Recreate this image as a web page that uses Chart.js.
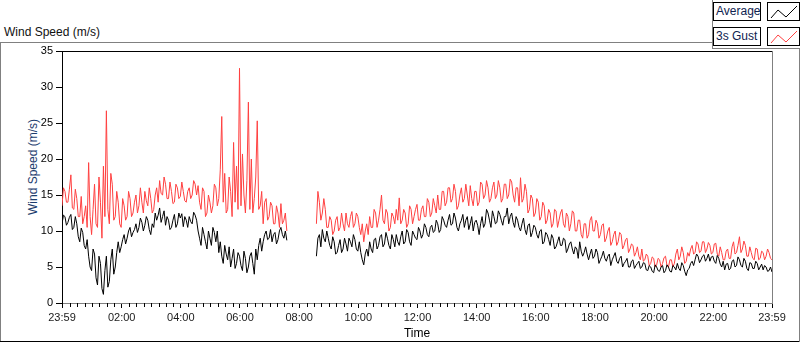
<!DOCTYPE html>
<html>
<head>
<meta charset="utf-8">
<script src="https://cdn.jsdelivr.net/npm/chart.js@4.4.0/dist/chart.umd.min.js"></script>
<style>
html, body { margin: 0; padding: 0; background: #fff; }
#wrap { position: relative; width: 800px; height: 342px; overflow: hidden; font-family: "Liberation Sans", Arial, sans-serif; }
.ln { position: absolute; }
#title { position: absolute; left: 4px; top: 25px; font-size: 12px; line-height: 14px; color: #111; white-space: nowrap; }
#ytitle { position: absolute; left: -27px; top: 160px; width: 120px; height: 14px; line-height: 14px; font-size: 12px; text-align: center; color: #1c3d6e; transform: rotate(-90deg); white-space: nowrap; }
.lbl { position: absolute; left: 713px; width: 48px; height: 19px; box-sizing: border-box; border: 1px solid #000; background: #fff; font-size: 12px; line-height: 17px; padding-left: 2px; color: #0f2350; white-space: nowrap; }
.sw { position: absolute; left: 767px; width: 33px; height: 19px; box-sizing: border-box; border: 1px solid #000; background: #fff; }
.sw svg { position: absolute; left: 0; top: 0; }
canvas { position: absolute; left: 0; top: 0; }
</style>
</head>
<body>
<div id="wrap">
  <div id="title">Wind Speed (m/s)</div>
  <!-- panel frame -->
  <div class="ln" style="left:0;top:42px;width:712px;height:1px;background:#808080"></div>
  <div class="ln" style="left:0;top:42px;width:1px;height:300px;background:#808080"></div>
  <div class="ln" style="left:0;top:341px;width:800px;height:1px;background:#000"></div>
  <div class="ln" style="left:799px;top:48px;width:1px;height:294px;background:#808080"></div>
  <div class="ln" style="left:712px;top:0;width:1px;height:49px;background:#808080"></div>
  <div class="ln" style="left:712px;top:48px;width:88px;height:1px;background:#808080"></div>
  <!-- plot frame top / right -->
  <div class="ln" style="left:62px;top:51px;width:711px;height:1px;background:#000"></div>
  <div class="ln" style="left:772px;top:51px;width:1px;height:253px;background:#808080"></div>

  <div id="ytitle">Wind Speed (m/s)</div>

  <div class="lbl" style="top:2px">Average</div>
  <div class="sw" style="top:2px"><svg width="33" height="19"><polyline points="3,15 10,7 18,14 29,3" fill="none" stroke="#000" stroke-width="1"/></svg></div>
  <div class="lbl" style="top:27px">3s Gust</div>
  <div class="sw" style="top:27px"><svg width="33" height="19"><polyline points="3,15 10,7 18,14 29,3" fill="none" stroke="#ff4040" stroke-width="1"/></svg></div>

  <canvas id="chart" width="800" height="342"></canvas>
</div>
<script>
// one sample every 3 minutes, starting at 23:59
const SAMPLE_MIN = 3;

const avgSpeed = [
  11.0, 12.2, 12.0, 10.8, 11.2, 11.9, 12.3, 10.2, 10.5, 12.0,
  11.0, 9.2, 8.5, 10.4, 9.8, 8.0, 7.5, 8.8, 6.5, 5.0,
  4.5, 7.5, 6.8, 3.5, 2.5, 6.5, 5.5, 2.0, 1.2, 4.5,
  6.5, 2.2, 3.0, 6.0, 7.5, 4.0, 5.0, 7.0, 8.5, 7.0,
  7.8, 8.8, 9.5, 8.2, 9.0, 10.0, 10.5, 9.2, 9.8, 10.2,
  11.0, 9.8, 10.5, 11.8, 11.2, 10.0, 10.8, 12.0, 11.5, 10.2,
  9.5, 11.0, 10.5, 12.5, 11.5, 12.2, 13.2, 11.2, 12.0, 12.8,
  10.8, 12.0, 11.5, 10.2, 10.5, 11.5, 12.3, 10.5, 11.0, 12.5,
  11.8, 12.4, 10.6, 12.0, 11.5, 10.5, 12.0, 11.3, 11.0, 12.6,
  12.2, 11.5, 10.0, 9.0, 8.0, 10.5, 9.5, 8.5, 7.5, 10.0,
  9.0, 8.0, 10.5, 9.8, 8.5, 10.0, 7.0, 8.5, 6.5, 5.5,
  8.0, 6.8, 6.0, 7.8, 5.0, 6.2, 7.5, 4.8, 5.5, 7.0,
  6.5, 5.2, 4.5, 7.2, 6.2, 4.2, 5.0, 6.5, 7.0, 5.5,
  4.0, 7.5, 6.0, 8.0, 9.0, 7.2, 8.5, 9.5, 10.0, 8.8,
  9.0, 10.2, 8.5, 9.5, 9.8, 8.2, 8.8, 10.0, 10.5, 9.5,
  9.0, 10.0, 8.7, null, null, null, null, null, null, null,
  null, null, null, null, null, null, null, null, null, null,
  null, null, 6.5, 9.0, 9.5, 7.8, 10.2, 9.0, 8.5, 10.0,
  9.0, 8.0, 7.5, 9.2, 8.5, 6.8, 7.0, 8.0, 8.8, 7.0,
  7.5, 9.0, 8.2, 7.2, 9.0, 8.5, 7.8, 9.5, 8.8, 7.5,
  7.2, 8.5, 7.0, 6.0, 5.3, 6.8, 7.5, 6.5, 8.5, 7.5,
  7.0, 8.8, 9.0, 7.5, 8.0, 9.2, 9.5, 7.8, 8.2, 9.8,
  9.0, 8.0, 7.5, 9.5, 8.8, 7.8, 9.5, 8.5, 8.0, 9.2,
  10.0, 8.2, 8.5, 10.2, 9.8, 8.5, 8.0, 10.0, 9.5, 9.0,
  8.8, 10.5, 10.0, 9.0, 9.5, 11.0, 10.5, 9.5, 9.2, 10.5,
  10.8, 9.8, 10.0, 11.5, 11.0, 9.8, 10.2, 12.0, 11.5, 10.8,
  10.5, 11.5, 12.3, 10.8, 11.0, 12.5, 11.8, 10.5, 10.0, 11.0,
  11.5, 12.3, 10.5, 11.5, 12.0, 10.2, 11.0, 12.0, 10.0, 11.2,
  11.5, 10.8, 9.5, 11.0, 12.0, 10.5, 11.0, 13.0, 12.5, 11.5,
  10.5, 12.8, 12.0, 11.0, 11.2, 12.8, 12.3, 11.5, 10.8, 12.0,
  12.0, 13.2, 11.0, 12.0, 12.5, 11.2, 10.5, 12.0, 11.5, 10.5,
  10.0, 11.0, 11.8, 10.2, 9.5, 10.8, 11.0, 9.2, 9.8, 10.8,
  10.5, 9.5, 9.0, 10.0, 10.2, 8.2, 8.5, 9.8, 9.5, 8.8,
  8.0, 9.5, 9.0, 7.5, 7.8, 8.5, 9.2, 8.0, 8.0, 9.0,
  8.8, 7.0, 7.5, 8.2, 8.5, 7.5, 6.8, 7.8, 7.5, 6.2,
  8.5, 7.2, 6.5, 7.0, 7.8, 6.8, 6.0, 6.8, 7.5, 6.2,
  6.5, 7.5, 7.0, 5.5, 6.0, 6.5, 7.2, 6.2, 5.8, 6.5,
  6.8, 5.2, 6.0, 6.5, 7.0, 5.8, 5.5, 6.2, 6.5, 5.0,
  5.5, 5.8, 6.2, 5.0, 5.0, 5.8, 6.0, 4.8, 5.2, 5.5,
  5.8, 4.8, 5.0, 5.6, 5.5, 4.6, 4.5, 5.2, 5.0, 4.4,
  4.2, 5.3, 5.0, 4.5, 4.4, 5.0, 5.2, 4.2, 4.5, 5.3,
  5.0, 4.4, 4.3, 5.2, 5.0, 4.6, 5.5, 4.8, 4.5, 5.6,
  5.2, 4.4, 3.8, 4.6, 4.8, 5.5, 5.8, 5.2, 6.0, 6.8,
  6.5, 5.6, 6.0, 6.5, 6.7, 5.8, 6.2, 6.8, 5.8, 6.4,
  6.5, 5.8, 5.5, 6.6, 6.2, 5.4, 5.0, 5.8, 4.6, 5.4,
  5.5, 4.6, 4.8, 5.8, 6.0, 5.0, 5.2, 6.4, 6.0, 5.2,
  5.0, 6.2, 5.8, 4.8, 4.5, 5.6, 5.5, 4.8, 4.8, 5.8,
  5.5, 4.6, 5.0, 5.4, 4.6, 5.2, 5.0, 4.4, 4.5, 5.0,
  4.3
];

const gustSpeed = [
  13.5, 16.0, 15.5, 14.0, 14.0, 15.8, 17.8, 13.2, 13.0, 15.8,
  14.5, 12.0, 12.0, 14.8, 11.0, 12.0, 13.5, 10.5, 19.5, 12.0,
  9.5, 13.0, 16.5, 11.0, 10.5, 17.5, 14.0, 9.0, 19.0, 12.0,
  26.7, 13.0, 11.0, 18.0, 16.5, 11.5, 12.0, 15.5, 14.0, 11.0,
  10.5, 14.5, 13.5, 11.5, 12.0, 15.5, 14.5, 12.0, 12.5, 14.0,
  15.0, 12.5, 13.5, 16.0, 14.0, 12.5, 15.5, 14.2, 13.5, 16.0,
  14.5, 12.5, 13.0, 15.0, 16.0, 14.0, 17.0, 15.2, 15.0, 17.5,
  16.5, 14.5, 14.5, 16.8, 15.5, 13.8, 14.0, 16.5, 16.0, 14.5,
  14.8, 16.8, 15.5, 14.2, 14.0, 15.5, 16.0, 14.5, 15.0, 17.0,
  16.5, 15.0, 16.3, 14.0, 13.0, 16.0, 15.5, 12.0, 12.5, 15.0,
  14.0, 12.5, 13.5, 16.5, 16.0, 13.5, 14.5, 18.5, 25.9, 14.0,
  18.0, 12.5, 13.0, 17.5, 15.5, 12.0, 22.3, 14.0, 19.0, 13.0,
  32.6, 13.5, 20.7, 15.0, 12.5, 17.0, 27.9, 13.0, 20.0, 12.5,
  14.5, 17.5, 25.3, 13.0, 13.5, 15.5, 11.0, 14.0, 14.5, 11.5,
  12.0, 14.0, 13.5, 11.0, 11.0, 13.5, 12.5, 10.5, 13.8, 11.0,
  11.5, 12.5, 10.0, null, null, null, null, null, null, null,
  null, null, null, null, null, null, null, null, null, null,
  null, null, 11.0, 15.5, 14.0, 11.5, 12.5, 14.5, 13.0, 10.5,
  10.5, 12.0, 11.5, 9.5, 10.0, 11.5, 12.0, 10.0, 10.5, 12.5,
  11.0, 10.0, 12.5, 11.0, 10.5, 12.0, 12.7, 10.5, 11.0, 12.5,
  12.0, 10.5, 9.5, 11.0, 8.5, 10.0, 11.0, 9.5, 12.0, 10.5,
  10.5, 13.0, 12.5, 10.5, 11.5, 13.0, 15.0, 11.5, 11.0, 13.0,
  12.5, 10.0, 10.5, 12.5, 12.0, 11.0, 13.0, 11.5, 14.6, 11.0,
  11.5, 13.0, 12.5, 10.5, 11.0, 13.5, 13.0, 11.0, 12.0, 13.0,
  13.7, 11.5, 11.5, 13.0, 13.5, 12.0, 12.0, 14.5, 14.0, 12.0,
  12.5, 14.5, 13.5, 12.5, 15.0, 13.0, 13.0, 15.5, 15.5, 13.5,
  14.0, 16.0, 16.0, 14.0, 14.5, 16.5, 15.5, 13.0, 13.5, 15.0,
  16.0, 14.0, 14.5, 16.5, 15.0, 13.5, 16.3, 14.5, 13.5, 15.5,
  15.5, 13.5, 14.0, 16.8, 16.5, 14.5, 15.0, 17.0, 16.0, 14.0,
  14.5, 16.0, 16.8, 14.5, 15.0, 17.0, 16.0, 14.0, 14.5, 16.5,
  16.5, 14.5, 15.0, 17.2, 16.8, 15.0, 14.0, 16.0, 16.0, 13.5,
  17.4, 14.0, 14.5, 16.5, 15.5, 12.5, 13.0, 15.0, 14.5, 12.0,
  12.5, 14.5, 14.0, 11.5, 12.0, 14.0, 13.5, 11.0, 11.5, 13.0,
  12.5, 10.5, 11.0, 13.0, 12.8, 10.5, 11.5, 12.5, 13.0, 11.0,
  10.5, 12.5, 12.0, 10.0, 11.0, 12.8, 12.5, 10.0, 10.0, 11.5,
  11.5, 9.5, 9.0, 11.0, 11.0, 9.0, 9.5, 11.5, 12.0, 10.0,
  10.0, 11.5, 11.0, 9.0, 9.5, 10.8, 11.0, 8.5, 9.0, 10.0,
  10.5, 8.0, 8.5, 9.5, 10.0, 8.0, 8.5, 9.8, 9.5, 7.5,
  8.0, 8.8, 9.0, 7.0, 7.5, 8.2, 8.0, 6.5, 7.0, 7.8,
  6.5, 6.0, 7.5, 5.8, 6.0, 6.8, 6.5, 5.2, 5.5, 6.4,
  6.2, 5.0, 5.3, 6.2, 6.0, 5.0, 5.5, 6.3, 6.5, 5.2,
  5.0, 6.0, 6.0, 5.0, 5.5, 6.8, 7.5, 6.0, 6.5, 7.8,
  7.0, 5.5, 5.8, 7.0, 6.5, 7.5, 8.0, 6.8, 7.0, 8.5,
  8.2, 7.0, 7.2, 8.5, 8.5, 7.0, 7.5, 8.4, 8.0, 6.8,
  7.0, 8.2, 8.3, 6.8, 6.5, 7.8, 7.0, 6.0, 6.0, 7.2,
  7.5, 6.2, 6.2, 7.8, 8.5, 6.8, 7.0, 8.0, 9.2, 7.0,
  7.5, 8.6, 8.0, 6.5, 6.5, 7.8, 7.0, 6.2, 6.0, 7.6,
  7.5, 6.0, 6.2, 7.2, 7.0, 6.0, 6.5, 7.5, 7.0, 6.2,
  6.0
];

// minutes after 23:59 where the labelled ticks sit
const majorTickMin = [0, 121, 241, 361, 481, 601, 721, 841, 961, 1081, 1201, 1321, 1440];
const majorTickLabels = ['23:59', '02:00', '04:00', '06:00', '08:00', '10:00', '12:00',
                         '14:00', '16:00', '18:00', '20:00', '22:00', '23:59'];

const FONT = 'Liberation Sans';

function toPoints(values) {
    return values.map((v, i) => ({ x: i * SAMPLE_MIN, y: v }));
}

// small unlabelled ticks every quarter hour
const minorTicks = {
    id: 'minorTicks',
    afterDraw(chart) {
        const xs = chart.scales.x;
        const ctx = chart.ctx;
        const y0 = chart.chartArea.bottom;
        ctx.save();
        ctx.strokeStyle = '#000';
        ctx.lineWidth = 1;
        ctx.beginPath();
        for (let m = 16; m < 1440; m += 15) {
            if (majorTickMin.includes(m)) continue;
            const px = Math.round(xs.getPixelForValue(m)) + 0.5;
            ctx.moveTo(px, y0);
            ctx.lineTo(px, y0 + 4);
        }
        ctx.stroke();
        ctx.restore();
    }
};

new Chart(document.getElementById('chart'), {
    type: 'line',
    data: {
        datasets: [
            { label: 'Average', data: toPoints(avgSpeed), borderColor: '#000', borderWidth: 1, pointRadius: 0, spanGaps: false },
            { label: '3s Gust', data: toPoints(gustSpeed), borderColor: '#ff4040', borderWidth: 1, pointRadius: 0, spanGaps: false }
        ]
    },
    options: {
        responsive: false,
        animation: false,
        layout: { padding: { top: 51, right: 28, left: 0, bottom: 0 } },
        plugins: { legend: { display: false }, tooltip: { enabled: false } },
        scales: {
            x: {
                type: 'linear',
                min: 0,
                max: 1440,
                afterBuildTicks: s => { s.ticks = majorTickMin.map(v => ({ value: v })); },
                afterFit: s => { s.height = 39; },
                ticks: {
                    autoSkip: false,
                    maxRotation: 0,
                    padding: 3,
                    color: '#1a1a1a',
                    font: { family: FONT, size: 11 },
                    callback: v => majorTickLabels[majorTickMin.indexOf(v)]
                },
                grid: { drawOnChartArea: false, tickLength: 5, tickColor: '#000' },
                border: { color: '#808080' },
                title: { display: true, text: 'Time', color: '#000', font: { family: FONT, size: 12 }, padding: { top: 0, bottom: 1 } }
            },
            y: {
                min: 0,
                max: 35,
                afterFit: s => { s.width = 62; },
                ticks: { stepSize: 5, padding: 3, color: '#000', font: { family: FONT, size: 11 } },
                grid: { drawOnChartArea: false, tickLength: 6, tickColor: '#000' },
                border: { color: '#000' }
            }
        }
    },
    plugins: [minorTicks]
});
</script>
</body>
</html>
